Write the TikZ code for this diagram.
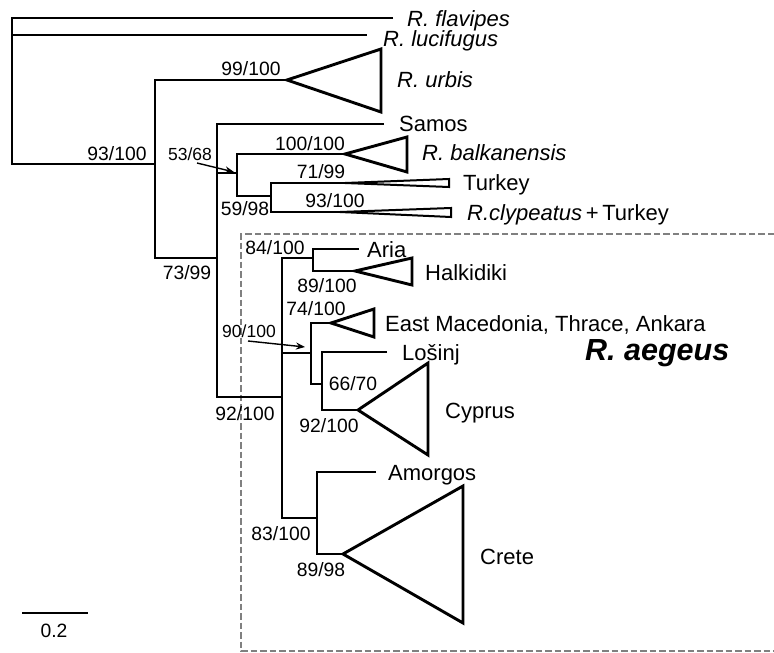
\documentclass[tikz,border=0pt]{standalone}
\usepackage{fontspec}
\setmainfont{Liberation Sans}
\usetikzlibrary{arrows.meta}
\begin{document}
\begin{tikzpicture}[x=1pt,y=-1pt,
  br/.style={line width=2.9pt, line join=miter},
  thintri/.style={line width=2pt, line join=miter},
  sp/.style={font=\fontsize{22}{22}\selectfont, anchor=base west, inner sep=0pt},
  spi/.style={sp, font=\fontsize{22}{22}\selectfont\itshape},
  sv/.style={font=\fontsize{19.3}{19.3}\selectfont, anchor=base, inner sep=0pt},
  svs/.style={font=\fontsize{17.5}{17.5}\selectfont, anchor=base, inner sep=0pt},
  pointer/.style={line width=1.4pt, -{Stealth[length=9pt,width=7pt]}},
  boxline/.style={draw=black!50, line width=1.4pt, dash pattern=on 6.5pt off 3pt}]
\useasboundingbox (0,0) rectangle (774,653);
% dashed box
\draw[boxline] (774,234) -- (241,234) -- (241,651) -- (774,651);
% coordinates
\coordinate (flavtip) at (393,18);
\coordinate (rootbot) at (12,164);
\coordinate (c155) at (155,164);
\coordinate (luc0) at (12,35);
\coordinate (luctip) at (367,35);
\coordinate (urbA) at (287,80);
\coordinate (urbT) at (381,49);
\coordinate (urbB) at (381,112);
\coordinate (v155b) at (155,258);
\coordinate (j217) at (217,258);
\coordinate (samtip) at (384,124);
\coordinate (v217b) at (217,397);
\coordinate (j282) at (282,397);
\coordinate (b53a) at (217,173);
\coordinate (b53b) at (237,173);
\coordinate (balkA) at (345,154);
\coordinate (balkT) at (407,137);
\coordinate (balkB) at (407,172);
\coordinate (v237b) at (237,196);
\coordinate (j271) at (271,196);
\coordinate (turkA) at (345,183);
\coordinate (turkT) at (449,179);
\coordinate (turkB) at (449,187);
\coordinate (v271b) at (271,212);
\coordinate (clypA) at (340,212);
\coordinate (clypT) at (451,208);
\coordinate (clypB) at (451,217);
\coordinate (v282t) at (282,258);
\coordinate (v282b) at (282,518);
\coordinate (j313) at (313,258);
\coordinate (ariatip) at (359,249);
\coordinate (v313b) at (313,271);
\coordinate (halkA) at (355,271);
\coordinate (halkT) at (412,258);
\coordinate (halkB) at (412,285);
\coordinate (j282m) at (282,353);
\coordinate (j311) at (311,353);
\coordinate (emA) at (331,323);
\coordinate (emT) at (374,309);
\coordinate (emB) at (374,337);
\coordinate (v311b) at (311,384);
\coordinate (j322) at (322,384);
\coordinate (lostip) at (387,352);
\coordinate (v322b) at (322,410);
\coordinate (cypA) at (358,410);
\coordinate (cypT) at (428,363);
\coordinate (cypB) at (428,455);
\coordinate (j317) at (317,518);
\coordinate (amotip) at (376,472);
\coordinate (v317b) at (317,554);
\coordinate (creA) at (343,554);
\coordinate (creT) at (463,486);
\coordinate (creB) at (463,623);
% branches
\draw[br] (flavtip) -| (rootbot) -- (c155);
\draw[br] (luc0) -- (luctip);
\draw[br] (urbA) -| (v155b) -- (j217);
\draw[br] (urbA) -- (urbT) -- (urbB) -- cycle;
\draw[br] (samtip) -| (v217b) -- (j282);
\draw[br] (b53a) -- (b53b);
\draw[br] (balkA) -| (v237b) -- (j271);
\draw[br] (balkA) -- (balkT) -- (balkB) -- cycle;
\draw[br] (turkA) -| (v271b) -- (clypA);
\draw[thintri] (turkA) -- (turkT) -- (turkB) -- cycle;
\draw[thintri] (clypA) -- (clypT) -- (clypB) -- cycle;
\draw[br] (j313) -| (v282b) -- (j317);
\draw[br] (ariatip) -| (v313b) -- (halkA);
\draw[br] (halkA) -- (halkT) -- (halkB) -- cycle;
\draw[br] (j282m) -- (j311);
\draw[br] (emA) -| (v311b) -- (j322);
\draw[br] (emA) -- (emT) -- (emB) -- cycle;
\draw[br] (lostip) -| (v322b) -- (cypA);
\draw[br] (cypA) -- (cypT) -- (cypB) -- cycle;
\draw[br] (amotip) -| (v317b) -- (creA);
\draw[br] (creA) -- (creT) -- (creB) -- cycle;
% species labels
\node[spi] (lflav) at (407,26) {R. flavipes};
\node[spi] (lluc) at (383,46) {R. lucifugus};
\node[spi] (lurb) at (397,87) {R. urbis};
\node[sp] (lsam) at (399,131) {Samos};
\node[spi] (lbalk) at (422,160) {R. balkanensis};
\node[sp] (lturk) at (463,190) {Turkey};
\node[sp] (lclyp) at (467,220) {\textit{R.clypeatus}\,+\,Turkey};
\node[sp] (laria) at (367,257) {Aria};
\node[sp] (lhalk) at (425,280) {Halkidiki};
\node[sp] (lem) at (385,331) {East Macedonia, Thrace, Ankara};
\node[sp] (llos) at (402,360) {Lošinj};
\node[sp] (lcyp) at (445,418) {Cyprus};
\node[sp] (lamo) at (388,480) {Amorgos};
\node[sp] (lcre) at (480,564) {Crete};
\node[anchor=base west, inner sep=0pt, font=\fontsize{30.5}{30.5}\selectfont\bfseries\itshape] (laeg) at (585,360) {R. aegeus};
% support values
\node[sv] (s1) at (117,160) {93/100};
\node[sv] (s2) at (251,75) {99/100};
\node[sv] (s3) at (187,279) {73/99};
\node[svs] (s4) at (190,160) {53/68};
\node[sv] (s5) at (310,150) {100/100};
\node[sv] (s6) at (321,178) {71/99};
\node[sv] (s7) at (245,215) {59/98};
\node[sv] (s8) at (335,207) {93/100};
\node[sv] (s9) at (275,254) {84/100};
\node[sv] (s10) at (327,292) {89/100};
\node[sv] (s11) at (316,315) {74/100};
\node[svs] (s12) at (249,337) {90/100};
\node[sv] (s13) at (353,390) {66/70};
\node[sv] (s14) at (245,420) {92/100};
\node[sv] (s15) at (329,432) {92/100};
\node[sv] (s16) at (281,540) {83/100};
\node[sv] (s17) at (321,576) {89/98};
% pointer arrows
\coordinate (a1s) at (197,163);
\coordinate (a1e) at (234,172);
\coordinate (a2s) at (248,341);
\coordinate (a2e) at (305,347);
\draw[pointer] (a1s) -- (a1e);
\draw[pointer] (a2s) -- (a2e);
% scale bar
\coordinate (sb1) at (22,613);
\coordinate (sb2) at (88,613);
\draw[line width=2.6pt] (sb1) -- (sb2);
\node[sv] (sbl) at (54,637) {0.2};
\end{tikzpicture}
\end{document}
